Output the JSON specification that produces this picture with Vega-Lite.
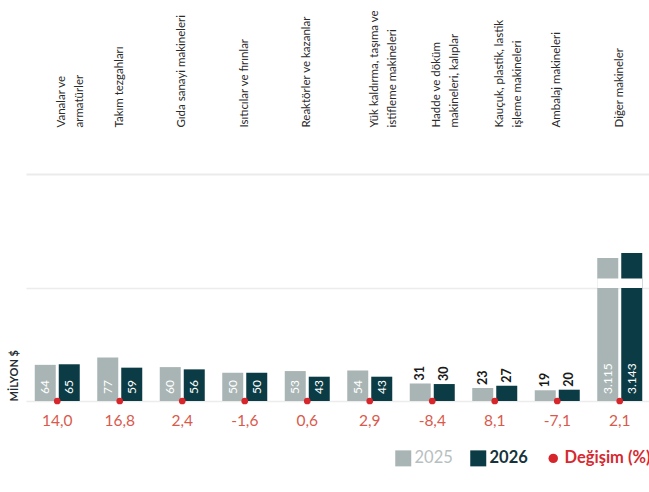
{
  "$schema": "https://vega.github.io/schema/vega-lite/v6.json",
  "width": 625,
  "height": 227,
  "autosize": "none",
  "padding": {"left": 26, "top": 174, "right": 0, "bottom": 91},
  "background": "white",
  "config": {
    "locale": {"number": {"decimal": ",", "thousands": ".", "grouping": [3], "currency": ["", ""], "minus": "-"}},
    "view": {"stroke": null},
    "font": "Lato"
  },
  "data": {
    "values": [
      {"kategori": "Vanalar ve\narmatürler", "yil": "2025", "deger": 64, "degisim": 14.0},
      {"kategori": "Vanalar ve\narmatürler", "yil": "2026", "deger": 65, "degisim": 14.0},
      {"kategori": "Takım tezgahları", "yil": "2025", "deger": 77, "degisim": 16.8},
      {"kategori": "Takım tezgahları", "yil": "2026", "deger": 59, "degisim": 16.8},
      {"kategori": "Gıda sanayi makineleri", "yil": "2025", "deger": 60, "degisim": 2.4},
      {"kategori": "Gıda sanayi makineleri", "yil": "2026", "deger": 56, "degisim": 2.4},
      {"kategori": "Isıtıcılar ve fırınlar", "yil": "2025", "deger": 50, "degisim": -1.6},
      {"kategori": "Isıtıcılar ve fırınlar", "yil": "2026", "deger": 50, "degisim": -1.6},
      {"kategori": "Reaktörler ve kazanlar", "yil": "2025", "deger": 53, "degisim": 0.6},
      {"kategori": "Reaktörler ve kazanlar", "yil": "2026", "deger": 43, "degisim": 0.6},
      {"kategori": "Yük kaldırma, taşıma ve\nistifleme makineleri", "yil": "2025", "deger": 54, "degisim": 2.9},
      {"kategori": "Yük kaldırma, taşıma ve\nistifleme makineleri", "yil": "2026", "deger": 43, "degisim": 2.9},
      {"kategori": "Hadde ve döküm\nmakineleri, kalıplar", "yil": "2025", "deger": 31, "degisim": -8.4},
      {"kategori": "Hadde ve döküm\nmakineleri, kalıplar", "yil": "2026", "deger": 30, "degisim": -8.4},
      {"kategori": "Kauçuk, plastik, lastik\nişleme makineleri", "yil": "2025", "deger": 23, "degisim": 8.1},
      {"kategori": "Kauçuk, plastik, lastik\nişleme makineleri", "yil": "2026", "deger": 27, "degisim": 8.1},
      {"kategori": "Ambalaj makineleri", "yil": "2025", "deger": 19, "degisim": -7.1},
      {"kategori": "Ambalaj makineleri", "yil": "2026", "deger": 20, "degisim": -7.1},
      {"kategori": "Diğer makineler", "yil": "2025", "deger": 3115, "degisim": 2.1},
      {"kategori": "Diğer makineler", "yil": "2026", "deger": 3143, "degisim": 2.1}
    ]
  },
  "encoding": {
    "x": {
      "field": "kategori",
      "type": "nominal",
      "sort": null,
      "scale": {"paddingInner": 0.28, "paddingOuter": 0.14},
      "axis": {
        "orient": "top",
        "title": null,
        "ticks": false,
        "domain": true,
        "domainColor": "#ebebeb",
        "domainWidth": 2,
        "labelAngle": -90,
        "labelAlign": "left",
        "labelBaseline": "middle",
        "labelPadding": 47,
        "labelOffset": {"condition": {"test": "indexof(datum.value, '\\n') >= 0", "value": 5}, "value": 0},
        "labelFont": "Lato",
        "labelFontSize": 11.5,
        "labelColor": "#2a2a2a",
        "labelLineHeight": 18,
        "labelExpr": "split(datum.label, '\\n')",
        "labelLimit": 0,
        "labelOverlap": false
      }
    }
  },
  "layer": [
    {
      "mark": {"type": "bar"},
      "encoding": {
        "xOffset": {"field": "yil", "type": "nominal", "scale": {"paddingInner": 0.125, "paddingOuter": 0}},
        "y": {
          "field": "deger",
          "type": "quantitative",
          "scale": {"domain": [0, 200, 3000, 3500], "range": [227, 114, 104.6, 15], "nice": false, "zero": false},
          "axis": {
            "values": [0, 200],
            "grid": true,
            "gridColor": "#ececec",
            "gridWidth": 1.5,
            "ticks": false,
            "labels": false,
            "domain": false,
            "title": "MİLYON $",
            "titleFont": "Lato",
            "titleFontSize": 11,
            "titleFontWeight": "bold",
            "titleColor": "#1f2d33",
            "titleX": -12,
            "titleY": 227,
            "titleAngle": -90,
            "titleAlign": "left",
            "titleBaseline": "middle"
          }
        },
        "color": {
          "field": "yil",
          "type": "nominal",
          "scale": {"domain": ["2025", "2026", "Değişim (%)"], "range": ["#a9b5b4", "#0b3b44", "#d6262c"]},
          "legend": {
            "orient": "none",
            "legendX": 369,
            "legendY": 276,
            "direction": "horizontal",
            "title": null,
            "labelFont": "Lato",
            "labelFontSize": 16.5,
            "symbolSize": 256,
            "symbolType": "square",
            "columnPadding": 17,
            "labelOffset": 3,
            "encode": {
              "symbols": {
                "update": {
                  "shape": {"signal": "datum.value === 'Değişim (%)' ? 'circle' : 'square'"},
                  "size": {"signal": "datum.value === 'Değişim (%)' ? 90 : 256"},
                  "fill": {"signal": "scale('color', datum.value)"},
                  "strokeWidth": {"value": 0},
                  "opacity": {"value": 1}
                }
              },
              "labels": {
                "update": {
                  "fill": {"signal": "datum.value === '2025' ? '#b7c0c0' : datum.value === '2026' ? '#17333b' : '#d52a30'"},
                  "fontWeight": {"signal": "datum.value === '2025' ? 'normal' : 'bold'"}
                }
              }
            }
          }
        }
      }
    },
    {
      "transform": [{"filter": "datum.kategori === 'Diğer makineler' && datum.yil === '2025'"}],
      "mark": {"type": "rect", "color": "white"},
      "encoding": {
        "y": {"datum": 200},
        "y2": {"datum": 3000}
      }
    },
    {
      "transform": [{"filter": "datum.deger >= 35"}],
      "mark": {"type": "text", "angle": 270, "align": "left", "baseline": "middle", "dx": 7, "fontSize": 12, "color": "white"},
      "encoding": {
        "xOffset": {"field": "yil", "type": "nominal"},
        "y": {"datum": 0},
        "text": {"field": "deger", "type": "quantitative", "format": ",d"}
      }
    },
    {
      "transform": [{"filter": "datum.deger < 35"}],
      "mark": {"type": "text", "angle": 270, "align": "left", "baseline": "middle", "dx": 3, "fontSize": 12.5, "fontWeight": "bold", "color": "#1a1a1a"},
      "encoding": {
        "xOffset": {"field": "yil", "type": "nominal"},
        "y": {"field": "deger", "type": "quantitative"},
        "text": {"field": "deger", "type": "quantitative", "format": ",d"}
      }
    },
    {
      "transform": [{"filter": "datum.yil === '2026'"}],
      "mark": {"type": "point", "filled": true, "size": 45, "opacity": 1},
      "encoding": {
        "y": {"datum": 0},
        "color": {"datum": "Değişim (%)"}
      }
    },
    {
      "transform": [{"filter": "datum.yil === '2026'"}],
      "mark": {"type": "text", "baseline": "middle", "dy": 20, "fontSize": 15.5, "color": "#d95a4c"},
      "encoding": {
        "y": {"datum": 0},
        "text": {"field": "degisim", "type": "quantitative", "format": ",.1f"}
      }
    }
  ]
}
